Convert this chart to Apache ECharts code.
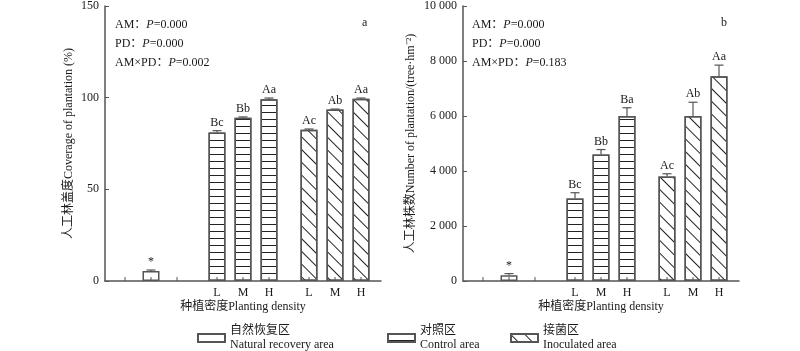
<!DOCTYPE html>
<html>
<head>
<meta charset="utf-8">
<script src="https://cdn.jsdelivr.net/npm/echarts@6/dist/echarts.min.js"></script>
<style>
  html, body { margin: 0; padding: 0; background: #fff; }
  #chart { width: 800px; height: 351px; }
</style>
</head>
<body>
<div id="chart"></div>
<script>
// groups on the x axis, bar slots inside each group
const groups = ['自然恢复区', '对照区', '接菌区']
const densities = ['L', 'M', 'H']
const legendNames = [
  '自然恢复区\nNatural recovery area',
  '对照区\nControl area',
  '接菌区\nInoculated area'
]

// a: coverage of plantation (%), one array per density slot, index = group
const coverL = [null, 81, 82.5]
const coverM = [5.5, 89, 93.5]
const coverH = [null, 99.2, 99.4]
const coverErrL = [null, 1, 0.4]
const coverErrM = [0.5, 0.5, 0.3]
const coverErrH = [null, 0.6, 0.4]
const coverSigL = ['', 'Bc', 'Ac']
const coverSigM = ['*', 'Bb', 'Ab']
const coverSigH = ['', 'Aa', 'Aa']
const coverTicks = [0, 50, 100, 150]

// b: number of plantation (tree/hm2)
const numL = [null, 3000, 3800]
const numM = [210, 4600, 6000]
const numH = [null, 6000, 7450]
const numErrL = [null, 210, 100]
const numErrM = [60, 180, 500]
const numErrH = [null, 300, 400]
const numSigL = ['', 'Bc', 'Ac']
const numSigM = ['*', 'Bb', 'Ab']
const numSigH = ['', 'Ba', 'Aa']
const numTicks = [0, 2000, 4000, 6000, 8000, 10000]

const FONT = '"Liberation Serif", "Times New Roman", "Noto Sans CJK SC", serif'
const TEXT = '#1a1a1a'
const AXIS = '#555'
const BAR_W = 17
const BAR_GAP = 9

const decals = [
  null,
  { symbol: 'rect', symbolSize: 1, dashArrayX: [1, 0], dashArrayY: [1, 6], color: '#222' },
  { symbol: 'rect', symbolSize: 1, dashArrayX: [1, 0], dashArrayY: [1, 8], rotation: Math.PI / 4, color: '#222' }
]
const legendDecals = [
  null,
  { symbol: 'rect', symbolSize: 1, dashArrayX: [1, 0], dashArrayY: [1, 5], color: '#222' },
  { symbol: 'rect', symbolSize: 1, dashArrayX: [1, 0], dashArrayY: [1, 9], rotation: Math.PI / 4, color: '#222' }
]
const barStyle = { color: '#fff', borderColor: AXIS, borderWidth: 1.5 }

function barItems(vals) {
  return vals.map((v, g) => v == null ? '-' : {
    value: v,
    itemStyle: decals[g] ? { decal: decals[g] } : {}
  })
}

function fmtNum(v) {
  return String(v).replace(/\B(?=(\d{3})+(?!\d))/g, ' ')
}

// error bars, significance letters, density labels and slot ticks
function extras(idx, vals, errs, sigs) {
  const data = []
  const sigList = []
  for (let g = 0; g < groups.length; g++) {
    for (let s = 0; s < densities.length; s++) {
      const v = vals[s][g]
      data.push([g, s, v == null ? 0 : v, v == null ? 0 : errs[s][g], v == null ? 0 : 1])
      sigList.push(sigs[s][g])
    }
  }
  return {
    type: 'custom',
    xAxisIndex: idx,
    yAxisIndex: idx,
    encode: { x: 0, y: 2 },
    clip: false,
    z: 5,
    data: data,
    renderItem: function (params, api) {
      const g = api.value(0)
      const s = api.value(1)
      const base = api.coord([g, 0])
      const x = base[0] + (s - 1) * (BAR_W + BAR_GAP)
      const y0 = base[1]
      const children = [
        { type: 'line', shape: { x1: x, y1: y0, x2: x, y2: y0 - 4 }, style: { stroke: AXIS, lineWidth: 1 } }
      ]
      if (api.value(4)) {
        const top = api.coord([g, api.value(2)])[1]
        const cap = api.coord([g, api.value(2) + api.value(3)])[1]
        children.push(
          { type: 'line', shape: { x1: x, y1: top, x2: x, y2: cap }, style: { stroke: AXIS, lineWidth: 1.2 } },
          { type: 'line', shape: { x1: x - 4.5, y1: cap, x2: x + 4.5, y2: cap }, style: { stroke: AXIS, lineWidth: 1.2 } },
          {
            type: 'text', x: x, y: cap - 2,
            style: { text: sigList[params.dataIndex], textAlign: 'center', textVerticalAlign: 'bottom', fontSize: 12, fontFamily: FONT, fill: TEXT }
          }
        )
        if (g > 0) {
          children.push({
            type: 'text', x: x, y: y0 + 6,
            style: { text: densities[s], textAlign: 'center', textVerticalAlign: 'top', fontSize: 12, fontFamily: FONT, fill: TEXT }
          })
        }
      }
      return { type: 'group', children: children }
    }
  }
}

function pText(am, pd, ax) {
  return [
    '{n|AM：}{i|P}{n|=' + am + '}',
    '{n|PD：}{i|P}{n|=' + pd + '}',
    '{n|AM×PD：}{i|P}{n|=' + ax + '}'
  ].join('\n')
}
const rich = {
  n: { fontSize: 12, fontFamily: FONT, fontWeight: 'normal', color: TEXT, lineHeight: 19 },
  i: { fontSize: 12, fontFamily: FONT, fontWeight: 'normal', fontStyle: 'italic', color: TEXT, lineHeight: 19 }
}
const plainTitle = { fontSize: 12, fontWeight: 'normal', fontFamily: FONT, color: TEXT }

function xAxisOf(idx) {
  return {
    type: 'category',
    gridIndex: idx,
    data: groups,
    axisLine: { lineStyle: { color: AXIS, width: 1.5 } },
    axisTick: { show: false },
    axisLabel: { show: false },
    name: '种植密度Planting density',
    nameLocation: 'middle',
    nameGap: 20,
    nameTextStyle: { fontSize: 12, fontFamily: FONT, color: TEXT }
  }
}
function yAxisOf(idx, max, interval, name, gap, fmt) {
  return {
    type: 'value',
    gridIndex: idx,
    min: 0,
    max: max,
    interval: interval,
    axisLine: { show: true, lineStyle: { color: AXIS, width: 1.5 } },
    axisTick: { show: true, inside: true, length: 4, lineStyle: { color: AXIS } },
    axisLabel: { fontSize: 12, fontFamily: FONT, color: TEXT, margin: 6, formatter: fmt },
    splitLine: { show: false },
    name: name,
    nameLocation: 'middle',
    nameGap: gap,
    nameTextStyle: { fontSize: 12, fontFamily: FONT, color: TEXT }
  }
}

function barSeries(idx, vals) {
  return densities.map((d, s) => ({
    type: 'bar',
    name: d + idx,
    xAxisIndex: idx,
    yAxisIndex: idx,
    barWidth: BAR_W,
    barGap: (BAR_GAP / BAR_W * 100).toFixed(0) + '%',
    itemStyle: barStyle,
    data: barItems(vals[s])
  }))
}

const chart = echarts.init(document.getElementById('chart'), null, { renderer: 'canvas' })

const legendSeries = legendNames.map((n, g) => ({
  type: 'bar',
  name: n,
  xAxisIndex: 2,
  yAxisIndex: 2,
  itemStyle: legendDecals[g] ? Object.assign({}, barStyle, { decal: legendDecals[g] }) : barStyle,
  data: []
}))
const legendLeft = [197, 387, 510]

chart.setOption({
  animation: false,
  backgroundColor: '#fff',
  textStyle: { fontFamily: FONT },
  title: [
    { left: 115, top: 15, padding: 0, text: pText('0.000', '0.000', '0.002'), textStyle: { rich: rich } },
    { left: 362, top: 17, padding: 0, text: 'a', textStyle: plainTitle },
    { left: 472, top: 15, padding: 0, text: pText('0.000', '0.000', '0.183'), textStyle: { rich: rich } },
    { left: 721, top: 17, padding: 0, text: 'b', textStyle: plainTitle }
  ],
  legend: legendNames.map((n, g) => ({
    data: [n],
    left: legendLeft[g],
    top: 324,
    padding: 0,
    icon: 'rect',
    itemWidth: 27,
    itemHeight: 8,
    itemGap: 6,
    selectedMode: false,
    textStyle: { fontSize: 12, fontFamily: FONT, color: TEXT, lineHeight: 14 }
  })),
  grid: [
    { left: 105, top: 6, width: 276, height: 275 },
    { left: 463, top: 6, width: 276, height: 275 },
    { left: -20, top: -20, width: 1, height: 1, show: false }
  ],
  xAxis: [
    xAxisOf(0),
    xAxisOf(1),
    { type: 'category', gridIndex: 2, show: false, data: ['x'] }
  ],
  yAxis: [
    yAxisOf(0, coverTicks[coverTicks.length - 1], coverTicks[1] - coverTicks[0], '人工林盖度Coverage of plantation (%)', 30, v => String(v)),
    yAxisOf(1, numTicks[numTicks.length - 1], numTicks[1] - numTicks[0], '人工林株数Number of plantation/(tree·hm⁻²)', 46, fmtNum),
    { type: 'value', gridIndex: 2, show: false }
  ],
  series: [
    ...barSeries(0, [coverL, coverM, coverH]),
    extras(0, [coverL, coverM, coverH], [coverErrL, coverErrM, coverErrH], [coverSigL, coverSigM, coverSigH]),
    ...barSeries(1, [numL, numM, numH]),
    extras(1, [numL, numM, numH], [numErrL, numErrM, numErrH], [numSigL, numSigM, numSigH]),
    ...legendSeries
  ]
})
</script>
</body>
</html>
